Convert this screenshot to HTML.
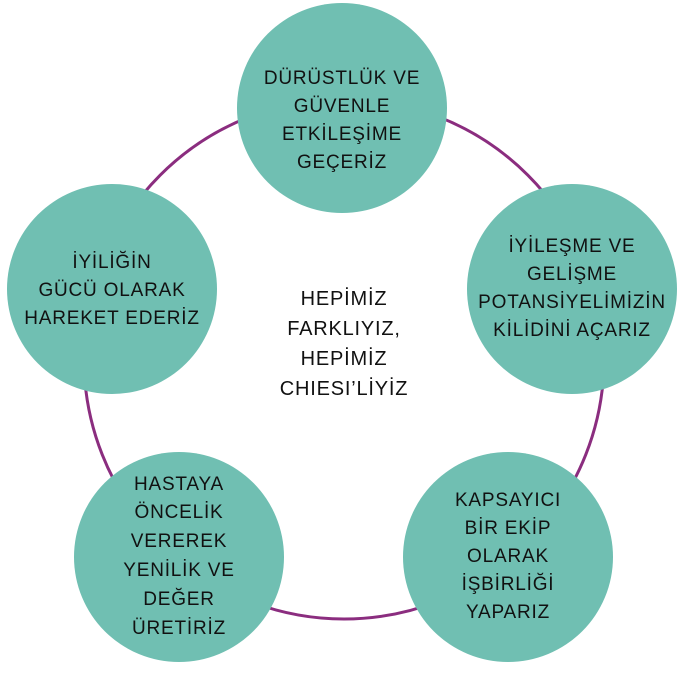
<!DOCTYPE html>
<html><head><meta charset="utf-8"><style>
body{margin:0;background:#fff;width:688px;height:673px;position:relative;overflow:hidden;font-family:"Liberation Sans",sans-serif;}
.c{position:absolute;width:210px;height:210px;border-radius:50%;background:#70bfb2;display:flex;align-items:center;justify-content:center;text-align:center;font-size:19px;letter-spacing:0.8px;line-height:28px;color:#111;white-space:nowrap;}
.t{position:absolute;text-align:center;font-size:20px;letter-spacing:0.8px;line-height:30px;color:#111;}
</style></head><body>
<svg width="688" height="673" style="position:absolute;left:0;top:0"><circle cx="344" cy="359" r="260" fill="none" stroke="#8b2d7f" stroke-width="3"/></svg>
<div class="c" style="left:237px;top:3px"><div style="margin-top:26px">DÜRÜSTLÜK VE<br>GÜVENLE<br>ETKİLEŞİME<br>GEÇERİZ</div></div>
<div class="c" style="left:467px;top:184px">İYİLEŞME VE<br>GELİŞME<br>POTANSİYELİMİZİN<br>KİLİDİNİ AÇARIZ</div>
<div class="c" style="left:403px;top:452px">KAPSAYICI<br>BİR EKİP<br>OLARAK<br>İŞBİRLİĞİ<br>YAPARIZ</div>
<div class="c" style="left:74px;top:452px;line-height:28.8px">HASTAYA<br>ÖNCELİK<br>VEREREK<br>YENİLİK VE<br>DEĞER<br>ÜRETİRİZ</div>
<div class="c" style="left:7px;top:184px"><div style="margin-top:4px">İYİLİĞİN<br>GÜCÜ OLARAK<br>HAREKET EDERİZ</div></div>
<div class="t" style="left:234px;top:284px;width:220px">HEPİMİZ<br>FARKLIYIZ,<br>HEPİMİZ<br>CHIESI’LİYİZ</div>
</body></html>
